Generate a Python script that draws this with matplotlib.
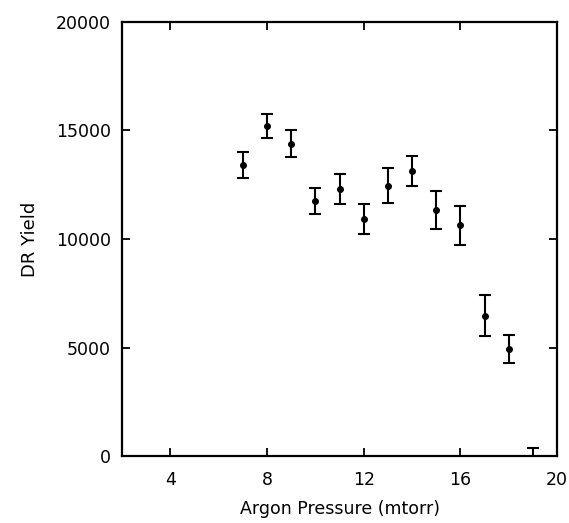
import matplotlib
matplotlib.use("Agg")
import matplotlib.pyplot as plt

# Argon pressure (mtorr) vs DR yield
presion = [7, 8, 9, 10, 11, 12, 13, 14, 15, 16, 17, 18, 19]
rendimiento = [13400, 15200, 14400, 11750, 12320, 10920, 12460, 13130, 11340, 10630, 6470, 4930, -100]
error = [600, 560, 620, 580, 690, 690, 790, 700, 860, 890, 960, 660, 450]

x_ticks = [4, 8, 12, 16, 20]
y_ticks = [0, 5000, 10000, 15000, 20000]

plt.rcParams['font.family'] = ['DejaVu Sans']

fig = plt.figure(figsize=(5.69, 5.23), dpi=100)
ax = fig.add_axes([0.2144, 0.128, 0.7646, 0.830])

ax.errorbar(presion, rendimiento, yerr=error, fmt='o', color='black',
            markersize=4, elinewidth=1.5, capsize=4, capthick=1.5)

ax.set_xlim(2, 20)
ax.set_ylim(0, 20000)
ax.set_xticks(x_ticks)
ax.set_yticks(y_ticks)
ax.tick_params(direction='in', length=6, width=1.3, top=True, right=True,
               labelsize=12.5)
ax.tick_params(axis='x', pad=11)
ax.tick_params(axis='y', pad=8)

for s in ax.spines.values():
    s.set_linewidth(1.6)

ax.set_xlabel('Argon Pressure (mtorr)', fontsize=12.5, labelpad=8)
ax.set_ylabel('DR Yield', fontsize=13, labelpad=12)

fig.savefig('out.png', dpi=100)
